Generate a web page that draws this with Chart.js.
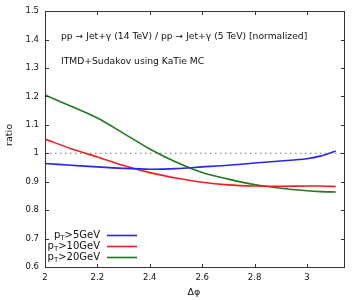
<!DOCTYPE html>
<html><head><meta charset="utf-8">
<script src="https://cdn.jsdelivr.net/npm/chart.js@4/dist/chart.umd.min.js"></script>
<style>html,body{margin:0;padding:0;background:#fff}#wrap{position:relative;width:360px;height:300px}#box{position:absolute;border:1px solid #333;box-sizing:border-box;pointer-events:none}</style>
</head><body><div id="wrap"><canvas id="c" width="360" height="300"></canvas><div id="box"></div></div>
<script>
const xs = [2.0, 2.1, 2.2, 2.3, 2.4, 2.5, 2.6, 2.7, 2.8, 2.9, 3.0, 3.05, 3.11];
const pt5 = [0.964, 0.958, 0.952, 0.947, 0.944, 0.946, 0.952, 0.958, 0.966, 0.973, 0.981, 0.990, 1.008];
const pt10 = [1.050, 1.016, 0.987, 0.957, 0.932, 0.913, 0.898, 0.889, 0.885, 0.884, 0.885, 0.885, 0.883];
const pt20 = [1.205, 1.165, 1.124, 1.070, 1.015, 0.969, 0.932, 0.909, 0.890, 0.877, 0.868, 0.865, 0.864];
const seriesLabels = ['>5GeV', '>10GeV', '>20GeV'];
const xTicks = [2, 2.2, 2.4, 2.6, 2.8, 3];
const yTicks = [0.6, 0.7, 0.8, 0.9, 1, 1.1, 1.2, 1.3, 1.4, 1.5];
const xRange = [2, Math.PI];
const yRange = [0.6, 1.5];
const refLine = 1;
const titleLines = ['pp \u2192 Jet+\u03b3 (14 TeV) / pp \u2192 Jet+\u03b3 (5 TeV) [normalized]', 'ITMD+Sudakov using KaTie MC'];
const xTitle = '\u0394\u03c6';
const yTitle = 'ratio';
const colors = ['#2626f0', '#f21d1d', '#1d7a1d'];

const pts = ys => xs.map((x, i) => ({x, y: ys[i]}));
const FONT = 'DejaVu Sans';

const texts = {
  id: 'texts',
  afterDraw(chart) {
    const ctx = chart.ctx;
    ctx.save();
    ctx.fillStyle = '#111';
    ctx.font = '9.2px "' + FONT + '"';
    ctx.textBaseline = 'middle';
    ctx.textAlign = 'left';
    ctx.fillText(titleLines[0], 61, 37);
    ctx.fillText(titleLines[1], 61, 62);
    ctx.font = '9.5px "' + FONT + '"';
    ctx.textAlign = 'center';
    ctx.fillText(xTitle, 194, 293);
    ctx.save();
    ctx.translate(10, 135);
    ctx.rotate(-Math.PI / 2);
    ctx.fillText(yTitle, 0, 0);
    ctx.restore();
    const rows = [235.5, 246.5, 257.5];
    rows.forEach((ry, i) => {
      const right = 100;
      ctx.font = '10px "' + FONT + '"';
      const wRest = ctx.measureText(seriesLabels[i]).width;
      const wP = ctx.measureText('p').width;
      ctx.font = '7px "' + FONT + '"';
      const wT = ctx.measureText('T').width;
      const x0 = right - wRest - wT - wP;
      ctx.textAlign = 'left';
      ctx.font = '10px "' + FONT + '"';
      ctx.fillText('p', x0, ry);
      ctx.font = '7px "' + FONT + '"';
      ctx.fillText('T', x0 + wP, ry + 3);
      ctx.font = '10px "' + FONT + '"';
      ctx.fillText(seriesLabels[i], x0 + wP + wT, ry);
      ctx.fillStyle = colors[i];
      ctx.fillRect(107, ry - 0.8, 30, 1.6);
      ctx.fillStyle = '#111';
    });
    ctx.restore();
  }
};

const frame = {
  id: 'frame',
  afterDraw(chart) {
    const ctx = chart.ctx;
    const sx = chart.scales.x, sy = chart.scales.y;
    const L = Math.round(sx.getPixelForValue(xRange[0]));
    const R = Math.round(sx.getPixelForValue(xRange[1]));
    const T = Math.round(sy.getPixelForValue(yRange[1]));
    const B = Math.round(sy.getPixelForValue(yRange[0]));
    ctx.save();
    ctx.fillStyle = '#333';
    ctx.fillRect(L, T, R - L + 1, 1);
    ctx.fillRect(L, B, R - L + 1, 1);
    ctx.fillRect(L, T, 1, B - T + 1);
    ctx.fillRect(R, T, 1, B - T + 1);
    const tl = 4;
    yTicks.forEach(v => {
      const y = Math.round(sy.getPixelForValue(v));
      ctx.fillRect(L, y, tl, 1);
      ctx.fillRect(R - tl + 1, y, tl, 1);
    });
    xTicks.forEach(v => {
      const x = Math.round(sx.getPixelForValue(v));
      ctx.fillRect(x, B - tl + 1, 1, tl);
      ctx.fillRect(x, T, 1, tl);
    });
    ctx.restore();
    const box = document.getElementById('box');
    box.style.left = L + 'px';
    box.style.top = T + 'px';
    box.style.width = (R - L + 1) + 'px';
    box.style.height = (B - T + 1) + 'px';
  }
};

new Chart(document.getElementById('c'), {
  type: 'line',
  data: {
    datasets: [
      {data: [{x: xRange[0], y: refLine}, {x: xRange[1], y: refLine}], borderColor: '#777', borderWidth: 1, borderDash: [1.5, 3.5], pointRadius: 0, tension: 0},
      {data: pts(pt5), borderColor: colors[0], borderWidth: 1.6, pointRadius: 0, tension: 0.3},
      {data: pts(pt10), borderColor: colors[1], borderWidth: 1.6, pointRadius: 0, tension: 0.3},
      {data: pts(pt20), borderColor: colors[2], borderWidth: 1.6, pointRadius: 0, tension: 0.3}
    ]
  },
  options: {
    responsive: false,
    animation: false,
    devicePixelRatio: 1,
    layout: {padding: {top: 9, right: 16, left: 0, bottom: 0}},
    plugins: {legend: {display: false}, tooltip: {enabled: false}},
    scales: {
      x: {
        type: 'linear', min: xRange[0], max: xRange[1],
        afterBuildTicks: s => { s.ticks = xTicks.map(v => ({value: v})); },
        afterFit: s => { s.height = 33; },
        grid: {display: false, drawTicks: false},
        border: {display: false},
        ticks: {padding: 6, color: '#111', font: {family: FONT, size: 8.5}, maxRotation: 0, autoSkip: false, callback: v => String(v)}
      },
      y: {
        type: 'linear', min: yRange[0], max: yRange[1],
        afterBuildTicks: s => { s.ticks = yTicks.map(v => ({value: v})); },
        afterFit: s => { s.width = 45; },
        grid: {display: false, drawTicks: false},
        border: {display: false},
        ticks: {padding: 6, color: '#111', font: {family: FONT, size: 8.5}, autoSkip: false, callback: v => String(v)}
      }
    }
  },
  plugins: [texts, frame]
});
</script>
</body></html>
